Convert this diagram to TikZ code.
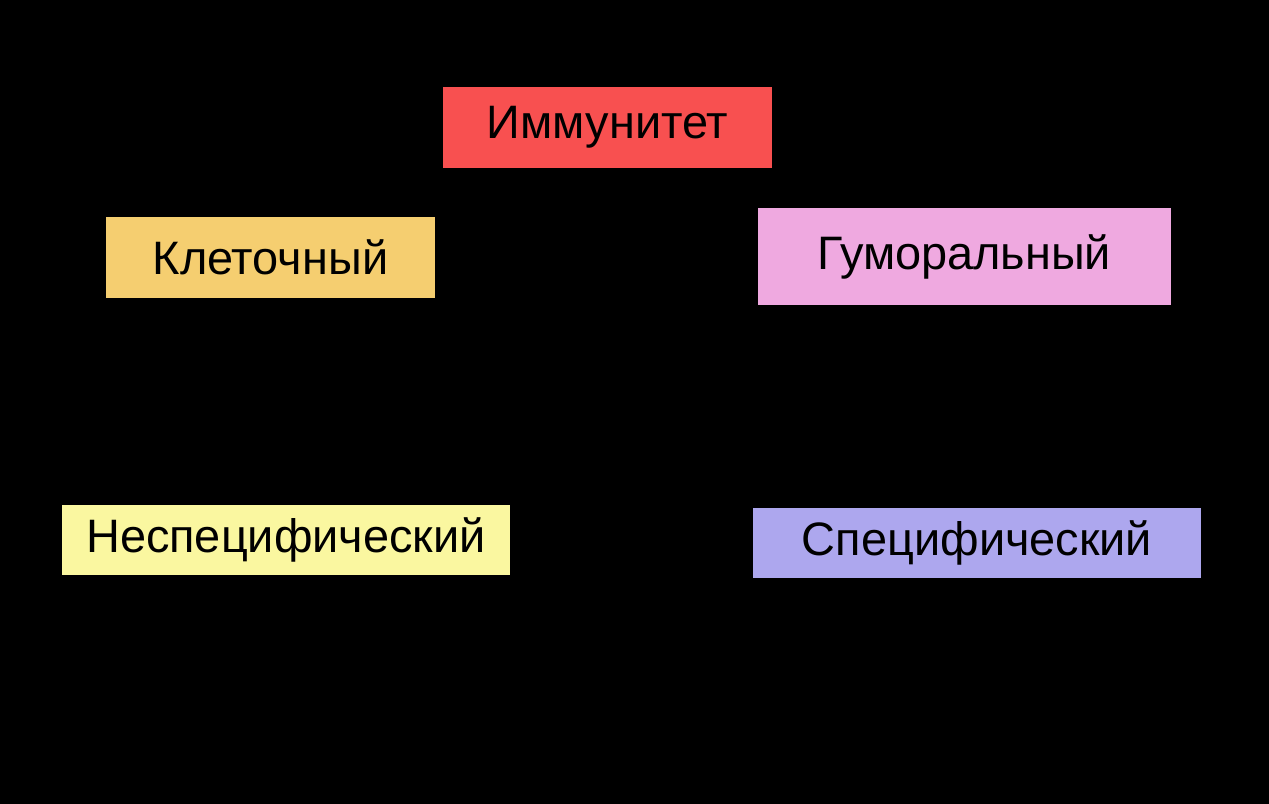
\documentclass[tikz,border=0pt]{standalone}
\usepackage{fontspec}
\setmainfont{Liberation Sans}
\usetikzlibrary{positioning}
\tikzset{every picture/.style={line width=0.75pt}}

\begin{document}
\begin{tikzpicture}[x=0.02cm, y=-0.02cm,
    box/.style={inner sep=0pt, font=\fontsize{26.7}{30}\selectfont, text=black}]
    % фон
    \fill[black] (0,0) rectangle (1269,804);
    \useasboundingbox (0,0) rectangle (1269,804);

    % Иммунитет
    \node[box, fill={rgb,255:red,248;green,80;blue,80}, minimum width=329*0.02cm, minimum height=81*0.02cm]
        (immun) at (607.5,127.5) {Иммунитет};

    % Клеточный и Гуморальный
    \node[box, fill={rgb,255:red,245;green,206;blue,112}, minimum width=329*0.02cm, minimum height=81*0.02cm]
        (klet) at (270.5,257.5) {Клеточный};
    \node[box, fill={rgb,255:red,239;green,169;blue,224}, minimum width=413*0.02cm, minimum height=97*0.02cm]
        (gumor) at (964.5,256.5) {Гуморальный};

    % Неспецифический и Специфический
    \node[box, fill={rgb,255:red,250;green,247;blue,160}, minimum width=448*0.02cm, minimum height=70*0.02cm]
        (nespec) at (286,540) {Неспецифический};
    \node[box, fill={rgb,255:red,173;green,167;blue,238}, minimum width=448*0.02cm, minimum height=70*0.02cm]
        (spec) at (977,543) {Специфический};
\end{tikzpicture}
\end{document}
